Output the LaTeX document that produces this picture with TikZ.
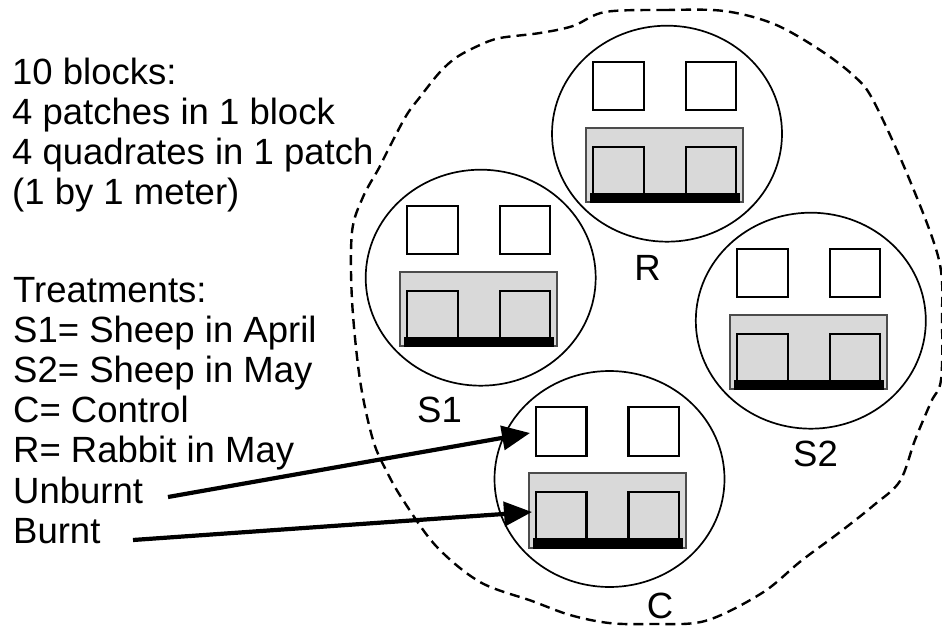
\documentclass[tikz,border=0pt]{standalone}
\usepackage{fontspec}
\setmainfont{Liberation Sans}
\usetikzlibrary{arrows.meta}
\definecolor{patchgray}{RGB}{217,217,217}
\tikzset{
  ring/.style={draw=black, line width=1.7pt},
  quad/.style={draw=black, line width=2.2pt},
  patch/.style={draw=black!70, line width=2pt, fill=patchgray},
  bar/.style={fill=black},
  txt/.style={anchor=base west, inner sep=0pt, font=\fontsize{36.5}{40}\selectfont},
  lbl/.style={anchor=base, inner sep=0pt, font=\fontsize{36.5}{40}\selectfont},
  pointer/.style={line width=4.2pt, -{Triangle[length=28pt,width=24pt]}},
  outline/.style={draw=black, line width=2.4pt, dash pattern=on 10pt off 6pt},
  plotblock/.pic={
    \draw[ring, fill=white] (0,0) ellipse [x radius=115, y radius=108];
    \draw[quad, fill=white] (-73.7,-71.7) rectangle (-23,-23.4);
    \draw[quad, fill=white] (19,-71.7) rectangle (69.3,-23.4);
    \draw[patch] (-81,-5.7) rectangle (76.4,68.6);
    \draw[quad, fill=patchgray] (-73.7,13) rectangle (-23,62);
    \draw[quad, fill=patchgray] (19,13) rectangle (69.3,62);
    \fill[bar] (-77,59) rectangle (73,69.6);
  }
}
\begin{document}
\begin{tikzpicture}[x=1pt,y=-1pt]
\useasboundingbox (0,0) rectangle (942,628);
\fill[white] (0,0) rectangle (942,628);

% dashed outline of the block
\draw[outline] plot[smooth cycle, tension=0.55] coordinates {
 (605,12) (665,10) (724,11) (774,24) (820,50) (854,76) (873,100) (908,176)
 (939,260) (942,320) (941,380) (931,402) (915,440) (900,481) (874,505)
 (840,532) (801,561) (762,593) (705,621) (650,624) (609,623) (570,615)
 (532,601) (480,582) (436,546) (403,500) (387,472) (373,440) (360,380)
 (352,300) (352,232) (363,197) (379,168) (388,150) (406,116) (420,97)
 (440,72) (457,57) (480,45) (500,38) (540,33) (573,26)};

% plots
\pic at (667,133.7) {plotblock};
\pic at (480.7,277.7) {plotblock};
\pic at (810.8,320.7) {plotblock};
\pic at (609.5,479) {plotblock};

% plot labels
\node[lbl] (labR)  at (647.5,280) {R};
\node[lbl] (labS1) at (439.5,422.7) {S1};
\node[lbl] (labS2) at (815.5,466.7) {S2};
\node[lbl] (labC)  at (660,618) {C};

% legend text
\node[txt] (l1) at (12,85)  {10 blocks:};
\node[txt] (l2) at (12,125) {4 patches in 1 block};
\node[txt] (l3) at (12,165) {4 quadrates in 1 patch};
\node[txt] (l4) at (12,205) {(1 by 1 meter)};

\node[txt] (t0) at (13,302) {Treatments:};
\node[txt] (t1) at (13,342) {S1= Sheep in April};
\node[txt] (t2) at (13,382) {S2= Sheep in May};
\node[txt] (t3) at (13,422) {C= Control};
\node[txt] (t4) at (13,462) {R= Rabbit in May};
\node[txt] (t5) at (13,503) {Unburnt};
\node[txt] (t6) at (13,543) {Burnt};

% pointers
\coordinate (ubStart) at (168,497);
\coordinate (ubTip)   at (530,433);
\coordinate (bStart)  at (133,540);
\coordinate (bTip)    at (532,512);
\draw[pointer] (ubStart) -- (ubTip);
\draw[pointer] (bStart) -- (bTip);
\end{tikzpicture}
\end{document}
